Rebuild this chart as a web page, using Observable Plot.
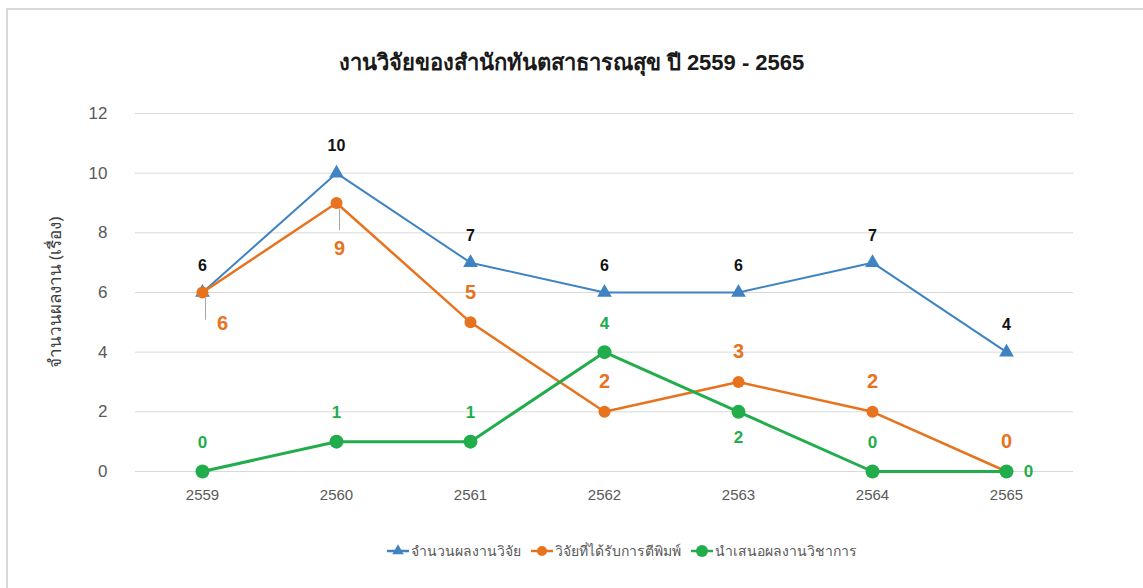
<!DOCTYPE html>
<html>
<head>
<meta charset="utf-8">
<script src="https://cdn.jsdelivr.net/npm/d3@7"></script>
<script src="https://cdn.jsdelivr.net/npm/@observablehq/plot@0.6"></script>
<style>
  html, body { margin: 0; padding: 0; background: #fff; }
  body { width: 1143px; height: 588px; position: relative; overflow: hidden; font-family: "Liberation Sans", "Noto Sans", sans-serif; }
  #frame { position: absolute; left: 6px; top: 8px; width: 1200px; height: 700px; border-top: 2px solid #d9d9d9; border-left: 2px solid #d9d9d9; }
  #title { position: absolute; left: 0; width: 1143px; top: 45px; text-align: center; font-size: 22px; font-weight: bold; color: #1a1a1a; }
  #chart { position: absolute; left: 0; top: 0; }
  #legend { position: absolute; left: 0; width: 1243px; top: 540px; text-align: center; font-size: 14px; color: #595959; }
  #legend span.item { display: inline-flex; align-items: center; margin: 0 5px; }
  #legend svg { margin-right: 2px; }
</style>
</head>
<body>
<div id="frame"></div>
<div id="chart"></div>
<div id="title">งานวิจัยของสำนักทันตสาธารณสุข ปี 2559 - 2565</div>
<div id="legend"></div>
<script>
const years = ["2559", "2560", "2561", "2562", "2563", "2564", "2565"];
const seriesNames = ["จำนวนผลงานวิจัย", "วิจัยที่ได้รับการตีพิมพ์", "นำเสนอผลงานวิชาการ"];
const research = [6, 10, 7, 6, 6, 7, 4];
const published = [6, 9, 5, 2, 3, 2, 0];
const presented = [0, 1, 1, 4, 2, 0, 0];
const yTicks = [0, 2, 4, 6, 8, 10, 12];
const yLabel = "จำนวนผลงาน (เรื่อง)";
// label placement relative to each point
const researchSide = ["above", "above", "above", "above", "above", "above", "above"];
const publishedSide = ["belowright", "below", "above", "above", "above", "above", "above"];
const presentedSide = ["above", "above", "above", "above", "below", "above", "right"];

const colors = ["#3f83c3", "#e8731f", "#22ad4c"];

const rows = (vals, sides, s) => vals.map((v, i) => ({year: years[i], value: v, side: sides[i], series: s}));
const rData = rows(research, researchSide, 0);
const pData = rows(published, publishedSide, 1);
const gData = rows(presented, presentedSide, 2);

const labelMarks = (data, color, size, offsets) =>
  Object.entries(offsets).map(([side, [dx, dy]]) =>
    Plot.text(data.filter(d => d.side === side), {
      x: "year", y: "value", text: d => String(d.value),
      dx, dy, fill: color, fontSize: size, fontWeight: "bold",
      fontFamily: "Liberation Sans, Arial, sans-serif"
    })
  );

// leader lines for the displaced labels of the published series
const leaders = pData.filter(d => d.side === "below" || d.side === "belowright");

const chart = Plot.plot({
  width: 1143,
  height: 588,
  marginTop: 113,
  marginBottom: 117,
  marginLeft: 135,
  marginRight: 70,
  style: {background: "transparent", fontFamily: "Liberation Sans, Arial, sans-serif"},
  x: {type: "point", domain: years, padding: 0.5, label: null},
  y: {domain: [0, 12], ticks: yTicks, label: null},
  marks: [
    Plot.ruleY(yTicks, {stroke: "#d9d9d9", strokeWidth: 1}),
    Plot.axisY({ticks: yTicks, tickSize: 0, tickPadding: 28, fontSize: 17, fill: "#595959", label: null}),
    Plot.text([yLabel], {frameAnchor: "left", textAnchor: "middle", dx: -80, rotate: -90, fontSize: 17, fill: "#404040", fontFamily: "Noto Sans, Liberation Sans, sans-serif"}),
    Plot.axisX({tickSize: 0, tickPadding: 18, fontSize: 15, fill: "#595959", fontFamily: "Liberation Sans Narrow, Liberation Sans, sans-serif", label: null}),
    // leader lines
    Plot.ruleX(leaders, {x: "year", y1: d => d.value - 0.2, y2: d => d.value - 0.93, dx: 3, stroke: "#a6a6a6", strokeWidth: 1}),
    // research series
    Plot.line(rData, {x: "year", y: "value", stroke: colors[0], strokeWidth: 2}),
    Plot.dot(rData, {x: "year", y: "value", symbol: "triangle", r: 4.5, fill: colors[0], stroke: colors[0]}),
    // published series
    Plot.line(pData, {x: "year", y: "value", stroke: colors[1], strokeWidth: 2.5}),
    Plot.dot(pData, {x: "year", y: "value", r: 6, fill: colors[1]}),
    // presented series
    Plot.line(gData, {x: "year", y: "value", stroke: colors[2], strokeWidth: 3}),
    Plot.dot(gData, {x: "year", y: "value", r: 7, fill: colors[2]}),
    ...labelMarks(rData, "#111", 16, {above: [0, -27]}),
    ...labelMarks(pData, colors[1], 20, {above: [0, -30], below: [3, 46], belowright: [20, 31]}),
    ...labelMarks(gData, colors[2], 17, {above: [0, -29], below: [0, 26], right: [22, 0]})
  ]
});
document.getElementById("chart").appendChild(chart);

// legend
const legend = document.getElementById("legend");
const symbols = ["triangle", "circle", "circle"];
const symR = [4.5, 5, 6];
seriesNames.forEach((name, i) => {
  const item = document.createElement("span");
  item.className = "item";
  const sw = d3.create("svg").attr("width", 22).attr("height", 16);
  sw.append("line").attr("x1", 0).attr("x2", 22).attr("y1", 8).attr("y2", 8).attr("stroke", colors[i]).attr("stroke-width", 2.5);
  sw.append("path").attr("transform", "translate(11,8)").attr("fill", colors[i])
    .attr("d", d3.symbol(symbols[i] === "triangle" ? d3.symbolTriangle : d3.symbolCircle, Math.PI * symR[i] * symR[i] * (symbols[i] === "triangle" ? 0.9 : 1))());
  item.appendChild(sw.node());
  const t = document.createElement("span");
  t.textContent = name;
  item.appendChild(t);
  legend.appendChild(item);
});
</script>
</body>
</html>
